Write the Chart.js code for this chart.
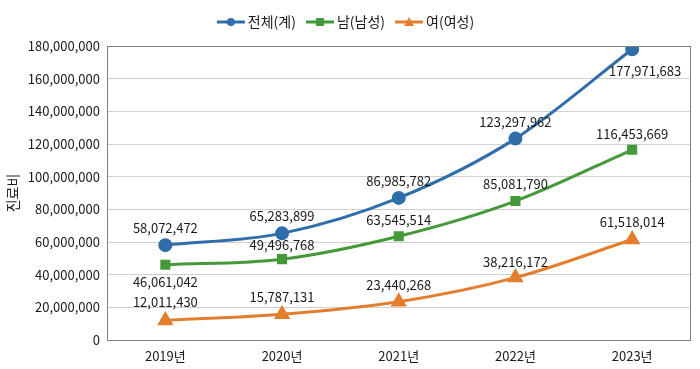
<!DOCTYPE html>
<html>
<head>
<meta charset="utf-8">
<script src="https://cdn.jsdelivr.net/npm/chart.js@4.4.1/dist/chart.umd.min.js"></script>
<style>
  html, body { margin: 0; padding: 0; background: #fff; }
  #wrap { width: 700px; height: 369px; position: relative; }
</style>
</head>
<body>
<div id="wrap"><canvas id="costChart"></canvas></div>
<script>
// data
const years = ["2019년", "2020년", "2021년", "2022년", "2023년"];
const totalCost = [58072472, 65283899, 86985782, 123297962, 177971683];
const maleCost = [46061042, 49496768, 63545514, 85081790, 116453669];
const femaleCost = [12011430, 15787131, 23440268, 38216172, 61518014];
const seriesNames = ["전체(계)", "남(남성)", "여(여성)"];
const yTitle = "진료비";

const FONT = "'Noto Sans CJK KR', 'Noto Sans', sans-serif";
const colors = ["#2F6EAA", "#45993A", "#E47E2F"];
const markers = ["circle", "rect", "triangle"];
const markerSize = [5.5, 5, 6.5];

// label offsets per point [dx, dy] (layout only)
const labelOffsets = [
    [[0, -17], [0, -17], [0, -17], [0, -17], [13, 22]],
    [[0, 17], [0, -14], [0, -16], [0, -17], [0, -16]],
    [[0, -18], [0, -17], [0, -17], [0, -16], [0, -17]]
];

// little line + marker icons for the legend
function legendIcon(color, style) {
    const c = document.createElement("canvas");
    c.width = 30; c.height = 12;
    const g = c.getContext("2d");
    g.strokeStyle = color;
    g.fillStyle = color;
    g.lineWidth = 3;
    g.beginPath(); g.moveTo(1, 6); g.lineTo(29, 6); g.stroke();
    g.beginPath();
    if (style === "circle") g.arc(15, 6, 4, 0, Math.PI * 2);
    else if (style === "rect") g.rect(11, 2, 8, 8);
    else { g.moveTo(15, 1); g.lineTo(20, 10); g.lineTo(10, 10); g.closePath(); }
    g.fill();
    return c;
}
const legendIcons = colors.map((c, i) => legendIcon(c, markers[i]));

const valueLabels = {
    id: "valueLabels",
    afterDatasetsDraw(chart) {
        const ctx = chart.ctx;
        ctx.save();
        ctx.font = "13px " + FONT;
        ctx.fillStyle = "#1a1a1a";
        ctx.textAlign = "center";
        ctx.textBaseline = "middle";
        chart.data.datasets.forEach((ds, i) => {
            chart.getDatasetMeta(i).data.forEach((pt, j) => {
                const off = labelOffsets[i][j];
                ctx.fillText(ds.data[j].toLocaleString("en-US"), pt.x + off[0], pt.y + off[1]);
            });
        });
        ctx.restore();
    }
};

const plotBox = {
    id: "plotBox",
    afterDraw(chart) {
        const a = chart.chartArea;
        const ctx = chart.ctx;
        ctx.save();
        ctx.strokeStyle = "#7f7f7f";
        ctx.lineWidth = 1;
        ctx.strokeRect(Math.round(a.left) + 0.5, Math.round(a.top) + 0.5,
            Math.round(a.right - a.left) - 1, Math.round(a.bottom - a.top));
        ctx.restore();
    }
};

// a bit more room under the legend
const legendGap = {
    id: "legendGap",
    beforeInit(chart) {
        const fit = chart.legend.fit;
        chart.legend.fit = function () {
            fit.bind(chart.legend)();
            this.height += 7;
        };
    }
};

function makeSet(label, data, i) {
    return {
        label,
        data,
        borderColor: colors[i],
        backgroundColor: colors[i],
        borderWidth: 3,
        pointStyle: markers[i],
        pointRadius: markerSize[i],
        pointHoverRadius: markerSize[i],
        cubicInterpolationMode: "monotone",
        tension: 0.3
    };
}

new Chart(document.getElementById("costChart"), {
    type: "line",
    data: {
        labels: years,
        datasets: [
            makeSet(seriesNames[0], totalCost, 0),
            makeSet(seriesNames[1], maleCost, 1),
            makeSet(seriesNames[2], femaleCost, 2)
        ]
    },
    options: {
        responsive: true,
        maintainAspectRatio: false,
        animation: false,
        layout: { padding: { top: 1, right: 5, left: 0, bottom: 2 } },
        plugins: {
            tooltip: { enabled: false },
            legend: {
                position: "top",
                labels: {
                    usePointStyle: true,
                    pointStyleWidth: 20,
                    padding: 14,
                    color: "#1a1a1a",
                    font: { size: 14, family: FONT },
                    generateLabels(chart) {
                        const items = Chart.defaults.plugins.legend.labels.generateLabels(chart);
                        items.forEach((it, i) => { it.pointStyle = legendIcons[i]; });
                        return items;
                    }
                }
            }
        },
        scales: {
            x: {
                offset: true,
                grid: { display: false, drawTicks: false },
                border: { display: false },
                ticks: { padding: 8, color: "#1a1a1a", font: { size: 13, family: FONT } },
                afterFit(scale) { scale.height = 27; }
            },
            y: {
                min: 0,
                max: 180000000,
                grid: { color: "#d0d0d0", drawTicks: false },
                border: { display: false },
                ticks: {
                    stepSize: 20000000,
                    padding: 7,
                    color: "#1a1a1a",
                    font: { size: 13, family: FONT },
                    callback: v => Number(v).toLocaleString("en-US")
                },
                title: {
                    display: true,
                    text: yTitle,
                    color: "#1a1a1a",
                    font: { size: 14, family: FONT },
                    padding: { top: 4, bottom: 0 }
                },
                afterFit(scale) { scale.width = 107; }
            }
        }
    },
    plugins: [valueLabels, plotBox, legendGap]
});
</script>
</body>
</html>
